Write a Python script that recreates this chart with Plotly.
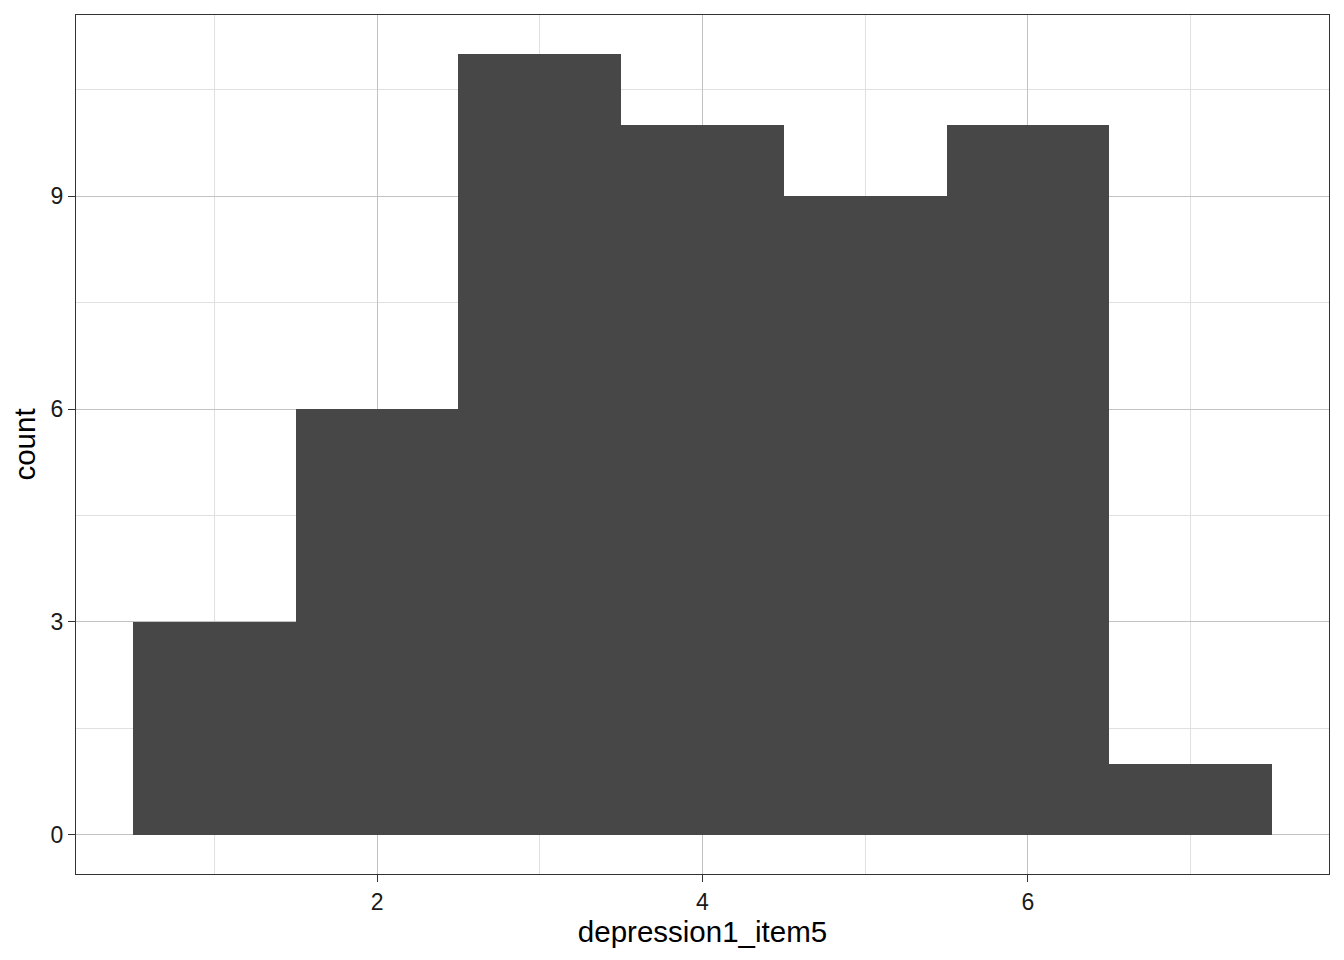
import plotly.graph_objects as go

bin_centers = [1, 2, 3, 4, 5, 6, 7]
counts = [3, 6, 11, 10, 9, 10, 1]
x_title = "depression1_item5"
y_title = "count"

FONT = "Liberation Sans, Arial, sans-serif"

fig = go.Figure()
fig.add_trace(go.Bar(x=bin_centers, y=counts, width=1,
                     marker=dict(color="#474747", line=dict(width=0)),
                     showlegend=False))

axis_common = dict(
    showline=True, mirror=True, linecolor="#333333", linewidth=1.3,
    ticks="outside", ticklen=7, tickwidth=1.3, tickcolor="#333333",
    showgrid=True, gridcolor="#c2c2c2", gridwidth=0.9,
    zeroline=False,
    tickfont=dict(family=FONT, size=23, color="#1a1a1a"),
    title_font=dict(family=FONT, size=29.5, color="#000000"),
)

fig.update_layout(
    width=1336, height=952,
    margin=dict(l=68, r=15, t=7, b=86),
    plot_bgcolor="white", paper_bgcolor="white",
    bargap=0,
    xaxis=dict(range=[0.15, 7.85], tick0=0, dtick=2, title=dict(text=x_title, standoff=5),
               minor=dict(dtick=1, tick0=0, showgrid=True, gridcolor="#e0e0e0", gridwidth=0.6, ticks=""),
               **axis_common),
    yaxis=dict(range=[-0.55, 11.55], tick0=0, dtick=3, title=dict(text=y_title, standoff=8),
               minor=dict(dtick=1.5, tick0=0, showgrid=True, gridcolor="#e0e0e0", gridwidth=0.6, ticks=""),
               **axis_common),
)

fig.write_html("out.html")
